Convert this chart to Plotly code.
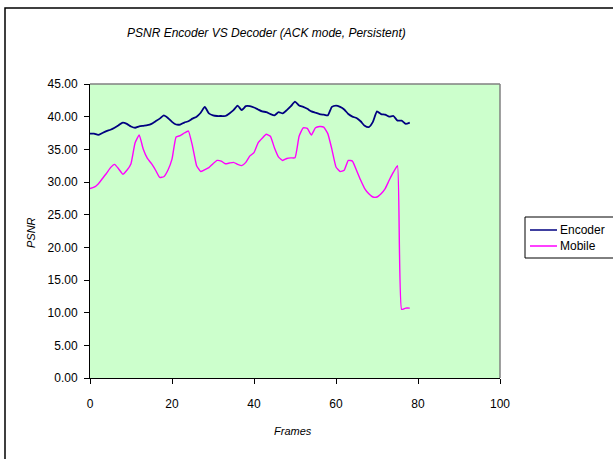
import plotly.graph_objects as go

frames = list(range(79))

encoder = [37.4, 37.4, 37.2, 37.5, 37.8, 38.0, 38.3, 38.7, 39.1, 38.9,
           38.5, 38.3, 38.5, 38.6, 38.7, 38.9, 39.3, 39.7, 40.2, 39.8,
           39.2, 38.8, 38.8, 39.1, 39.3, 39.7, 40.0, 40.6, 41.5, 40.5,
           40.2, 40.1, 40.1, 40.1, 40.5, 41.0, 41.7, 41.0, 41.6, 41.6,
           41.4, 41.1, 40.8, 40.7, 40.4, 40.2, 40.7, 40.5, 41.0, 41.6,
           42.3, 41.7, 41.5, 41.2, 40.8, 40.6, 40.4, 40.3, 40.2, 41.5,
           41.7, 41.5, 41.1, 40.4, 40.0, 39.8, 39.3, 38.6, 38.4, 39.2,
           40.8, 40.4, 40.3, 40.0, 40.1, 39.4, 39.4, 38.9, 39.1]

mobile = [29.0, 29.2, 29.7, 30.5, 31.3, 32.2, 32.7, 32.0, 31.2, 31.8,
          32.8, 36.0, 37.2, 35.0, 33.6, 32.8, 31.8, 30.7, 30.8, 31.8,
          33.5, 36.9, 37.1, 37.5, 37.8, 35.5, 32.5, 31.6, 31.9, 32.2,
          32.8, 33.3, 33.2, 32.8, 32.9, 33.0, 32.7, 32.5, 33.0, 34.0,
          34.5, 36.0, 36.7, 37.3, 37.0, 35.2, 33.8, 33.3, 33.6, 33.7,
          33.7, 37.0, 38.3, 38.2, 37.2, 38.3, 38.5, 38.4, 37.4, 35.0,
          32.3, 31.6, 31.8, 33.3, 33.2, 31.8, 30.3, 29.0, 28.2, 27.7,
          27.7, 28.2, 29.0, 30.3, 31.5, 32.5, 10.5, 10.7, 10.7]

series_names = ["Encoder", "Mobile"]
series_colors = ["#000080", "#FF00FF"]

x_ticks = [0, 20, 40, 60, 80, 100]
y_ticks = [0, 5, 10, 15, 20, 25, 30, 35, 40, 45]

FONT = "Liberation Sans, Arial, sans-serif"

fig = go.Figure()
fig.add_trace(go.Scatter(x=frames, y=encoder, mode="lines", name=series_names[0],
                         line=dict(color=series_colors[0], width=1.8, shape="spline", smoothing=0.5)))
fig.add_trace(go.Scatter(x=frames, y=mobile, mode="lines", name=series_names[1],
                         line=dict(color=series_colors[1], width=1.4, shape="spline", smoothing=0.4)))

L, R, T, B = 90, 113, 84, 81
W, H = 613, 459
pw, ph = W - L - R, H - T - B

def fx(px):
    return (px - L) / pw

def fy(py):
    return (H - B - py) / ph

shapes = [
    dict(type="line", xref="paper", yref="paper", x0=0, x1=1, y0=1, y1=1,
         line=dict(color="#808080", width=1.5)),
    dict(type="line", xref="paper", yref="paper", x0=1, x1=1, y0=0, y1=1,
         line=dict(color="#808080", width=1.5)),
    dict(type="rect", xref="paper", yref="paper", x0=fx(5), x1=fx(640),
         y0=fy(480), y1=fy(8), line=dict(color="black", width=1.5),
         layer="below"),
    # legend box
    dict(type="rect", xref="paper", yref="paper", x0=fx(525), x1=fx(640),
         y0=fy(258), y1=fy(217), line=dict(color="black", width=1),
         fillcolor="white"),
]
annotations = [
    dict(text="PSNR Encoder VS Decoder (ACK mode, Persistent)", xref="paper",
         yref="paper", x=fx(266), y=fy(33), xanchor="center", yanchor="middle",
         showarrow=False, font=dict(family=FONT, size=12, style="italic")),
    dict(text="PSNR", xref="paper", yref="paper", x=fx(31), y=fy(233),
         xanchor="center", yanchor="middle",
         showarrow=False, textangle=-90,
         font=dict(family=FONT, size=11, style="italic")),
    dict(text="Frames", xref="paper", yref="paper", x=fx(293), y=fy(431),
         xanchor="center", yanchor="middle",
         showarrow=False, font=dict(family=FONT, size=11, style="italic")),
]
legend_y = [230, 246]
for name, color, ly in zip(series_names, series_colors, legend_y):
    shapes.append(dict(type="line", xref="paper", yref="paper", x0=fx(530), x1=fx(557),
                       y0=fy(ly), y1=fy(ly), line=dict(color=color, width=1.5)))
    annotations.append(dict(text=name, xref="paper", yref="paper", x=fx(558), y=fy(ly),
                            xanchor="left", yanchor="middle", showarrow=False,
                            font=dict(family=FONT, size=12)))

fig.update_layout(
    width=W, height=H,
    margin=dict(l=L, r=R, t=T, b=B, autoexpand=False),
    paper_bgcolor="white",
    plot_bgcolor="#CCFFCC",
    font=dict(family=FONT, size=12, color="black"),
    showlegend=False,
    xaxis=dict(range=[0, 100], tickvals=x_ticks, ticks="outside", ticklen=5,
               tickcolor="black", showline=True, linecolor="black", linewidth=1,
               showgrid=False, zeroline=False, mirror=False, ticklabelstandoff=10,
               tickfont=dict(family=FONT, size=12)),
    yaxis=dict(range=[0, 45], tickvals=y_ticks, tickformat=".2f", ticks="outside",
               ticklen=5, tickcolor="black", showline=True, linecolor="black",
               linewidth=1, showgrid=False, zeroline=False, ticklabelstandoff=4,
               tickfont=dict(family=FONT, size=12)),
    shapes=shapes,
    annotations=annotations,
)

fig.write_html("out.html")
